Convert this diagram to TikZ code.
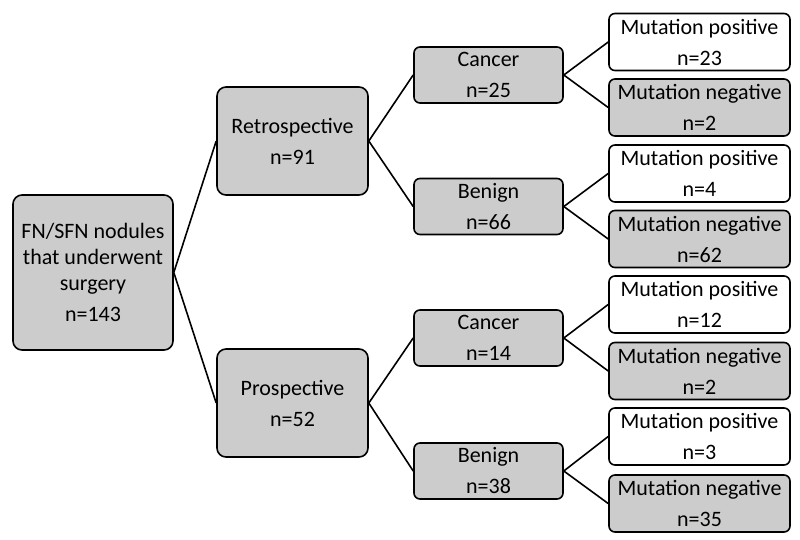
\documentclass[tikz,border=0pt]{standalone}
\usepackage{fontspec}
\setmainfont{Carlito}
\begin{document}
\begin{tikzpicture}[x=1pt,y=-1pt,
  box/.style={draw=black,line width=1.6pt,fill=boxgray,rounded corners=7pt,align=center,
    inner sep=0pt,font=\fontsize{22}{26}\selectfont},
  bigbox/.style={box,minimum width=#1,rounded corners=9pt},
  midbox/.style={box,minimum width=149pt,minimum height=56pt,rounded corners=6pt},
  leafbox/.style={box,minimum width=181pt,minimum height=57pt,rounded corners=6pt},
  mutpos/.style={leafbox,fill=white},
  mutneg/.style={leafbox},
  link/.style={line width=1.6pt}]
\definecolor{boxgray}{RGB}{204,204,204}
\useasboundingbox (0,0) rectangle (800,539);
\node[bigbox=160pt,minimum height=155pt] (root) at (93,272.5) {FN/SFN nodules\\that underwent\\surgery\\[5pt]n=143};
\node[bigbox=151pt,minimum height=108pt] (retro) at (292.5,141) {Retrospective\\[5pt]n=91};
\node[bigbox=151pt,minimum height=108pt] (pros) at (292.5,403) {Prospective\\[5pt]n=52};
\node[midbox] (c1) at (488.5,75) {Cancer\\[5pt]n=25};
\node[midbox] (b1) at (488.5,206.5) {Benign\\[5pt]n=66};
\node[midbox] (c2) at (488.5,338) {Cancer\\[5pt]n=14};
\node[midbox] (b2) at (488.5,471) {Benign\\[5pt]n=38};
\node[mutpos] (p1) at (699.5,42) {Mutation positive\\[5pt]n=23};
\node[mutneg] (n1) at (699.5,107.5) {Mutation negative\\[5pt]n=2};
\node[mutpos] (p2) at (699.5,173.5) {Mutation positive\\[5pt]n=4};
\node[mutneg] (n2) at (699.5,239) {Mutation negative\\[5pt]n=62};
\node[mutpos] (p3) at (699.5,304.5) {Mutation positive\\[5pt]n=12};
\node[mutneg] (n3) at (699.5,371) {Mutation negative\\[5pt]n=2};
\node[mutpos] (p4) at (699.5,436.5) {Mutation positive\\[5pt]n=3};
\node[mutneg] (n4) at (699.5,503.5) {Mutation negative\\[5pt]n=35};
\draw[link] (root.east) -- (retro.west);
\draw[link] (root.east) -- (pros.west);
\draw[link] (retro.east) -- (c1.west);
\draw[link] (retro.east) -- (b1.west);
\draw[link] (pros.east) -- (c2.west);
\draw[link] (pros.east) -- (b2.west);
\draw[link] (c1.east) -- (p1.west);
\draw[link] (c1.east) -- (n1.west);
\draw[link] (b1.east) -- (p2.west);
\draw[link] (b1.east) -- (n2.west);
\draw[link] (c2.east) -- (p3.west);
\draw[link] (c2.east) -- (n3.west);
\draw[link] (b2.east) -- (p4.west);
\draw[link] (b2.east) -- (n4.west);
\end{tikzpicture}
\end{document}
